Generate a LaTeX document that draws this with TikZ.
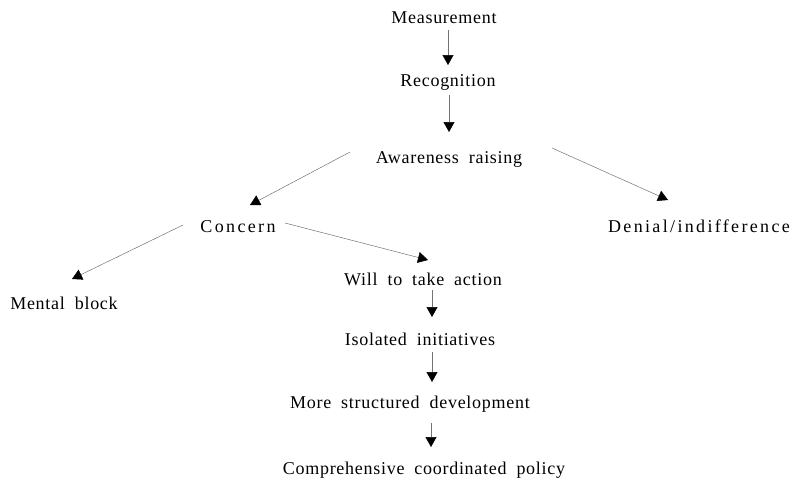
\documentclass[tikz,border=0pt]{standalone}
\usepackage{fontspec}
\setmainfont{Liberation Serif}
\newfontfamily\spacedA[LetterSpace=4,WordSpace=1.9]{Liberation Serif}
\newfontfamily\spacedB[LetterSpace=13,WordSpace=1.9]{Liberation Serif}
\usetikzlibrary{arrows.meta}
\tikzset{
  lbl/.style={anchor=base, inner sep=0pt, font=\fontsize{18}{21}\selectfont\spacedA},
  wide/.style={lbl, font=\fontsize{18}{21}\selectfont\spacedB},
  arr/.style={draw=black!55, line width=0.5pt,
    -{Triangle[length=10pt,width=11pt,color=black]}}
}
\begin{document}
\begin{tikzpicture}[x=1pt,y=-1pt]
  \useasboundingbox (0,0) rectangle (790,482);

  % stages of the process
  \node[lbl]  (me) at (444,23)  {Measurement};
  \node[lbl]  (re) at (448,86)  {Recognition};
  \node[lbl]  (aw) at (449,163) {Awareness raising};
  \node[wide] (co) at (238,232) {Concern};
  \node[wide] (de) at (699,232) {Denial/indifference};
  \node[lbl]  (mb) at (64,309)  {Mental block};
  \node[lbl]  (wi) at (423,285) {Will to take action};
  \node[lbl]  (is) at (420,345) {Isolated initiatives};
  \node[lbl]  (mo) at (410,408) {More structured development};
  \node[lbl]  (cp) at (424,474) {Comprehensive coordinated policy};

  % connectors
  \draw[arr] ([shift={(4,7)}]me.base)    -- ([shift={(0,-21)}]re.base);
  \draw[arr] ([shift={(1,9)}]re.base)    -- ([shift={(0,-31)}]aw.base);
  \draw[arr] ([shift={(-99,-11)}]aw.base) -- ([shift={(12,-27)}]co.base);
  \draw[arr] ([shift={(103,-15)}]aw.base) -- ([shift={(-31,-32)}]de.base);
  \draw[arr] ([shift={(-55,-7)}]co.base) -- ([shift={(8,-30)}]mb.base);
  \draw[arr] ([shift={(47,-9)}]co.base)  -- ([shift={(5,-25)}]wi.base);
  \draw[arr] ([shift={(9,5)}]wi.base)    -- ([shift={(12,-28)}]is.base);
  \draw[arr] ([shift={(12,7)}]is.base)   -- ([shift={(22,-26)}]mo.base);
  \draw[arr] ([shift={(21,15)}]mo.base)  -- ([shift={(7,-27)}]cp.base);
\end{tikzpicture}
\end{document}
